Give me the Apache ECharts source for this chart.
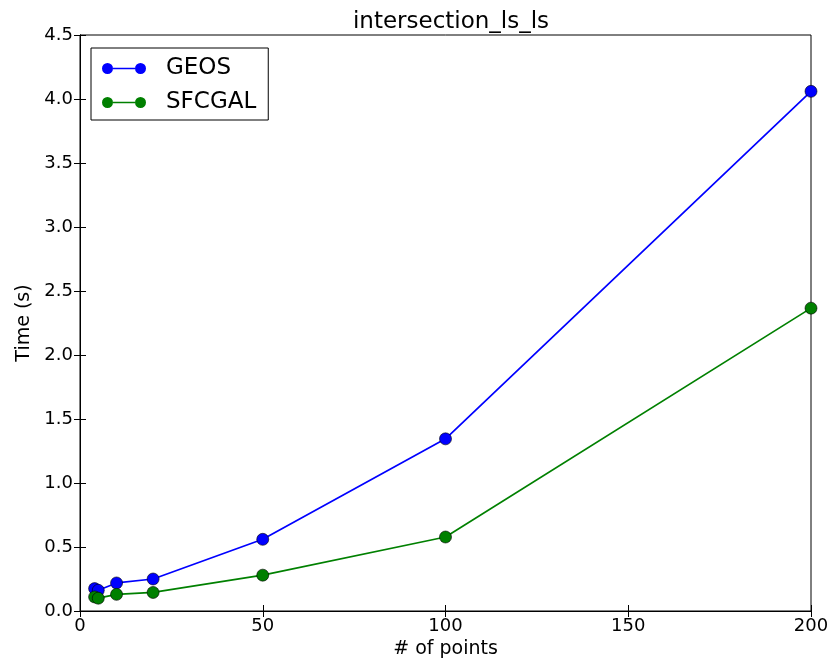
<!DOCTYPE html>
<html><head><meta charset="utf-8">
<script src="https://cdn.jsdelivr.net/npm/echarts@6/dist/echarts.min.js"></script>
<style>html,body{margin:0;padding:0;background:#fff}#c{width:839px;height:661px}</style>
</head><body><div id="c"></div>
<script>
const points = [4, 5, 10, 20, 50, 100, 200];
const geos = [0.175, 0.162, 0.219, 0.25, 0.56, 1.345, 4.06];
const sfcgal = [0.11, 0.10, 0.13, 0.145, 0.28, 0.578, 2.366];
const seriesNames = ['GEOS', 'SFCGAL'];
const colors = ['#0000ff', '#008000'];

const font = 'DejaVu Sans';
const legendIcon = 'path://M0,5.5a5.5,5.5 0 1,0 11,0a5.5,5.5 0 1,0 -11,0Z M33,5.5a5.5,5.5 0 1,0 11,0a5.5,5.5 0 1,0 -11,0Z M11,4.7L33,4.7L33,6.3L11,6.3Z';
const chart = echarts.init(document.getElementById('c'));
const mk = (name, vals, color) => ({
  name, type: 'line', xAxisIndex: 0, yAxisIndex: 0,
  data: points.map((x, i) => [x, vals[i]]),
  symbol: 'circle', symbolSize: 12, showSymbol: true,
  lineStyle: { color, width: 1.7 },
  itemStyle: { color, borderColor: '#000', borderWidth: 0.6 },
  clip: false, animation: false
});
const tickStyle = { lineStyle: { color: '#000', width: 1 } };
chart.setOption({
  backgroundColor: '#fff',
  animation: false,
  title: { text: 'intersection_ls_ls', left: 446, textAlign: 'center', top: 6,
    textStyle: { fontFamily: font, fontSize: 23, fontWeight: 'normal', color: '#000' } },
  legend: {
    left: 91, top: 48, orient: 'vertical',
    data: seriesNames.map((n, i) => ({ name: n, icon: legendIcon, itemStyle: { color: colors[i], borderWidth: 0 } })),
    itemWidth: 44, itemHeight: 11, itemGap: 11,
    padding: [9, 12, 6, 11],
    borderColor: '#000', borderWidth: 1, borderRadius: 0,
    textStyle: { fontFamily: font, fontSize: 23, color: '#000', padding: [0, 0, 0, 15] }
  },
  grid: { left: 80, right: 28, top: 35, bottom: 50, show: true, borderColor: '#000', borderWidth: 1,
    containLabel: false, outerBoundsMode: 'none' },
  xAxis: [
    { type: 'value', min: 0, max: 200, interval: 50, position: 'bottom',
      name: '# of points', nameLocation: 'middle', nameGap: 25,
      nameTextStyle: { fontFamily: font, fontSize: 19, color: '#000' },
      axisLine: { show: true, onZero: false, lineStyle: { color: '#000' } },
      axisTick: { show: true, inside: true, length: 6, ...tickStyle },
      axisLabel: { fontFamily: font, fontSize: 18, color: '#000', margin: 6 },
      splitLine: { show: false } },
    { type: 'value', min: 0, max: 200, interval: 50, position: 'top',
      axisLine: { show: true, lineStyle: { color: '#000' } },
      axisTick: { show: true, inside: true, length: 6, ...tickStyle },
      axisLabel: { show: false }, splitLine: { show: false } }
  ],
  yAxis: [
    { type: 'value', min: 0, max: 4.5, interval: 0.5, position: 'left',
      name: 'Time (s)', nameLocation: 'middle', nameGap: 43,
      nameTextStyle: { fontFamily: font, fontSize: 19, color: '#000' },
      axisLine: { show: true, onZero: false, lineStyle: { color: '#000' } },
      axisTick: { show: true, inside: true, length: 6, ...tickStyle },
      axisLabel: { fontFamily: font, fontSize: 18, color: '#000', margin: 7, formatter: v => v.toFixed(1) },
      splitLine: { show: false } },
    { type: 'value', min: 0, max: 4.5, interval: 0.5, position: 'right',
      axisLine: { show: true, lineStyle: { color: '#000' } },
      axisTick: { show: true, inside: true, length: 6, ...tickStyle },
      axisLabel: { show: false }, splitLine: { show: false } }
  ],
  series: [mk(seriesNames[0], geos, colors[0]), mk(seriesNames[1], sfcgal, colors[1])]
});
</script></body></html>
